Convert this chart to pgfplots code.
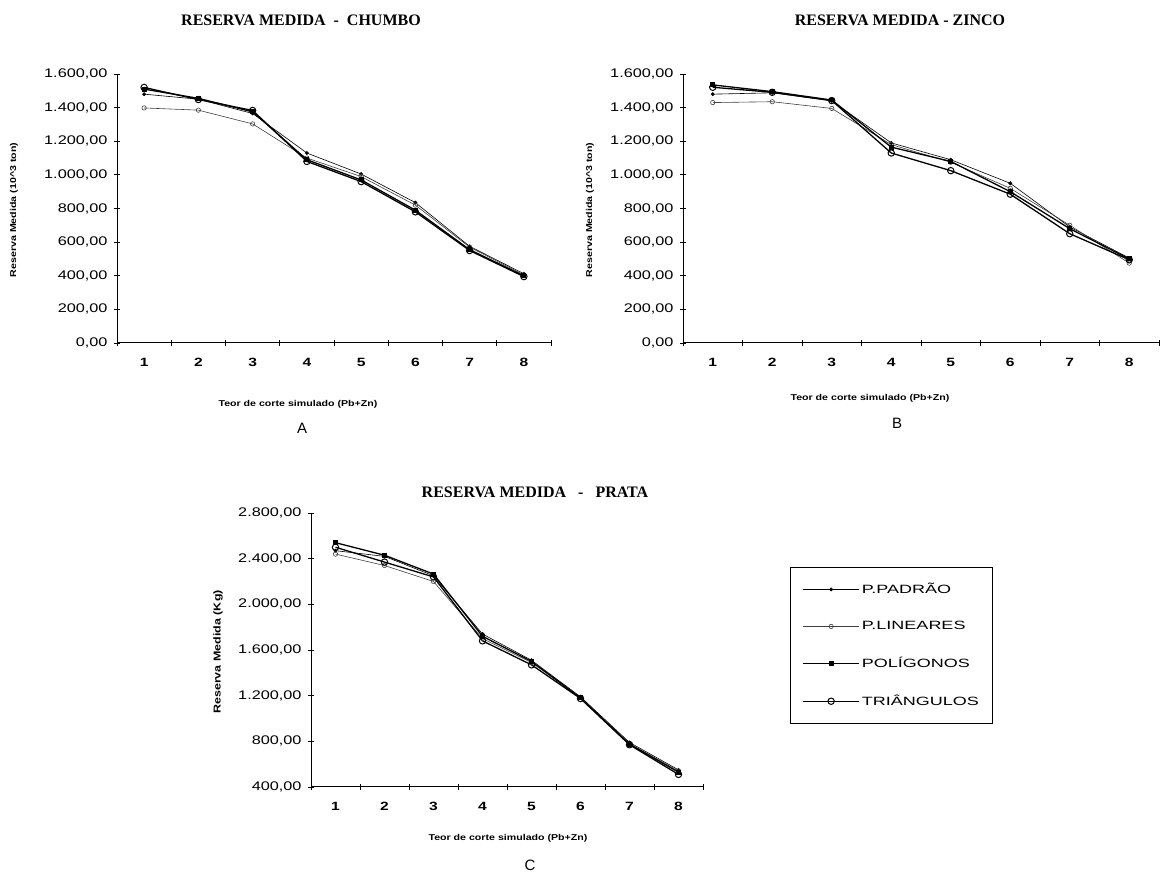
\documentclass[border=0pt]{standalone}
\usepackage{fontspec}
\setmainfont{Liberation Sans}
\newfontfamily\titlefont{Liberation Serif}
\newfontfamily\tickfont[FakeStretch=1.3]{Liberation Sans}
\newfontfamily\legfont[FakeStretch=1.5]{Liberation Sans}
\newfontfamily\labfont[FakeStretch=1.25]{Liberation Sans}
\usepackage{pgfplots}
\pgfplotsset{compat=1.18}
\usepackage{pgfplotstable}

\pgfplotstableread{
x padrao lineares poligonos triangulos
1 1480 1398 1510 1520
2 1450 1385 1455 1448
3 1365 1303 1375 1383
4 1130 1100 1090 1080
5 1005  990  970  960
6  835  820  790  780
7  575  570  555  550
8  412  405  400  395
}\chumbo
\pgfplotstableread{
x padrao lineares poligonos triangulos
1 1480 1430 1535 1521
2 1488 1435 1495 1491
3 1440 1395 1445 1442
4 1190 1180 1165 1130
5 1090 1075 1080 1025
6  950  920  900  885
7  690  700  680  650
8  505  475  500  495
}\zinco
\pgfplotstableread{
x padrao lineares poligonos triangulos
1 2470 2440 2540 2500
2 2420 2340 2430 2370
3 2250 2200 2265 2240
4 1740 1700 1720 1680
5 1510 1490 1500 1470
6 1190 1185 1180 1175
7  790  780  775  770
8  550  540  530  510
}\prata

\pgfplotsset{
  base/.style={
    scale only axis,
    anchor=south west,
    axis lines=left,
    axis line style={-, line width=1pt},
    xmin=0.5, xmax=8.5,
    xtick={1,...,8},
    xticklabels={1,2,3,4,5,6,7,8},
    minor xtick={0.5,1.5,...,8.5},
    major x tick style={draw=none},
    minor tick length=6pt,
    major tick length=6pt,
    tick align=center,
    tick style={black, line width=0.8pt},
    yticklabel style={xshift=-3pt, font=\tickfont\fontsize{12.5}{14}\selectfont},
    xticklabel style={yshift=-9pt, font=\tickfont\bfseries\fontsize{12}{14}\selectfont},
    /pgf/number format/.cd, fixed, fixed zerofill, precision=2, use comma, 1000 sep={.}, assume math mode=true,
  },
  spadrao/.style={black, line width=0.6pt, mark=*, mark size=1.6pt},
  slineares/.style={black!75, line width=0.6pt, mark=o, mark size=2.2pt, mark options={fill=white}},
  spoligonos/.style={black, line width=1.3pt, mark=square*, mark size=1.8pt},
  striangulos/.style={black, line width=1.3pt, mark=o, mark size=3.2pt, mark options={fill=white, line width=1pt}},
}

\begin{document}
\begin{tikzpicture}
\useasboundingbox (0,0) rectangle (1161pt,874pt);

% ---- A: CHUMBO
\begin{axis}[base, at={(117pt,531pt)}, width=434pt, height=269pt,
  ymin=0, ymax=1600, ytick={0,200,...,1600}]
\addplot[spadrao] table[x=x,y=padrao] {\chumbo};
\addplot[slineares] table[x=x,y=lineares] {\chumbo};
\addplot[spoligonos] table[x=x,y=poligonos] {\chumbo};
\addplot[striangulos] table[x=x,y=triangulos] {\chumbo};
\end{axis}

% ---- B: ZINCO
\begin{axis}[base, at={(683pt,531pt)}, width=476pt, height=269pt,
  ymin=0, ymax=1600, ytick={0,200,...,1600}]
\addplot[spadrao] table[x=x,y=padrao] {\zinco};
\addplot[slineares] table[x=x,y=lineares] {\zinco};
\addplot[spoligonos] table[x=x,y=poligonos] {\zinco};
\addplot[striangulos] table[x=x,y=triangulos] {\zinco};
\end{axis}

% ---- C: PRATA
\begin{axis}[base, at={(311pt,87pt)}, width=392pt, height=274pt,
  ymin=400, ymax=2800, ytick={400,800,...,2800},
  legend style={at={(1.222,0.803)}, anchor=north west, draw=black, line width=0.9pt,
    font=\legfont\fontsize{12}{14}\selectfont, inner xsep=12pt, inner ysep=14pt,
    row sep=22pt, cells={anchor=west}},
  legend image code/.code={\draw[#1, mark repeat=2, mark phase=2] plot coordinates {(0pt,0pt) (28pt,0pt) (56pt,0pt)};}]
\addplot[spadrao] table[x=x,y=padrao] {\prata};
\addlegendentry{P.PADRÃO}
\addplot[slineares] table[x=x,y=lineares] {\prata};
\addlegendentry{P.LINEARES}
\addplot[spoligonos] table[x=x,y=poligonos] {\prata};
\addlegendentry{POLÍGONOS}
\addplot[striangulos] table[x=x,y=triangulos] {\prata};
\addlegendentry{TRIÂNGULOS}
\end{axis}

% titles
\node[font=\titlefont\bfseries\fontsize{16}{18}\selectfont] at (301pt,854pt) {RESERVA MEDIDA \ - \ CHUMBO};
\node[font=\titlefont\bfseries\fontsize{16}{18}\selectfont] at (900pt,854pt) {RESERVA MEDIDA - ZINCO};
\node[font=\titlefont\bfseries\fontsize{16}{18}\selectfont] at (535pt,382pt) {RESERVA MEDIDA \hspace{8pt}-\hspace{8pt} PRATA};

% x labels
\node[font=\labfont\bfseries\fontsize{8.5}{10}\selectfont] at (298pt,470pt) {Teor de corte simulado (Pb+Zn)};
\node[font=\labfont\bfseries\fontsize{8.5}{10}\selectfont] at (870pt,476pt) {Teor de corte simulado (Pb+Zn)};
\node[font=\labfont\bfseries\fontsize{8.5}{10}\selectfont] at (508pt,36pt) {Teor de corte simulado (Pb+Zn)};

% y labels
\node[font=\labfont\bfseries\fontsize{8.5}{10}\selectfont, rotate=90] at (14pt,664pt) {Reserva Medida (10\textasciicircum 3 ton)};
\node[font=\labfont\bfseries\fontsize{8.5}{10}\selectfont, rotate=90] at (590pt,664pt) {Reserva Medida (10\textasciicircum 3 ton)};
\node[font=\labfont\bfseries\fontsize{10}{12}\selectfont, rotate=90] at (218pt,222pt) {Reserva Medida (Kg)};

% panel letters
\node[font=\fontsize{15}{17}\selectfont] at (302pt,446pt) {A};
\node[font=\fontsize{15}{17}\selectfont] at (897pt,451pt) {B};
\node[font=\fontsize{15}{17}\selectfont] at (530pt,9pt) {C};
\end{tikzpicture}
\end{document}
